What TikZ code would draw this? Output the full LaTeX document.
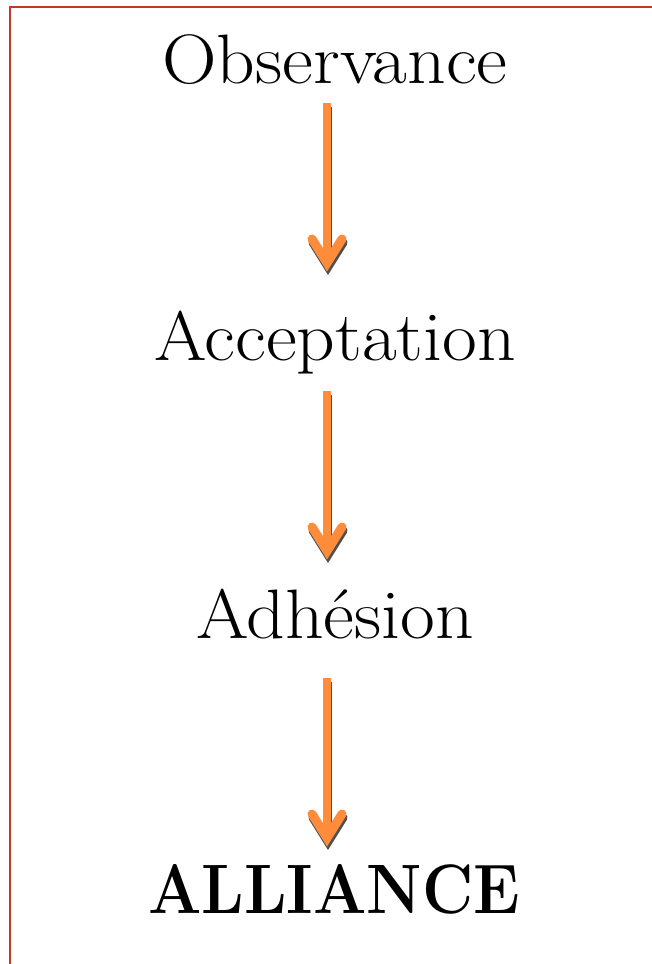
\documentclass[tikz,border=0pt]{standalone}
\usetikzlibrary{calc}
\definecolor{frame}{RGB}{192,57,43}
\definecolor{arrorange}{RGB}{255,140,58}
\definecolor{arrshadow}{RGB}{80,80,80}
\tikzset{
  lbl/.style={inner sep=0pt, anchor=base, font=\fontsize{70}{74}\selectfont},
  shaftline/.style={line width=8pt, line cap=butt},
  headline/.style={line width=9pt, line cap=round, line join=miter},
}
\newcommand{\myarrow}[2]{%
  \draw[shaftline, arrshadow] ($(#1)+(1,3.5)$) -- ($(#2)+(1,-6)$);
  \draw[headline, arrshadow] ($(#2)+(-15+1,-24+3.5)$) -- ($(#2)+(1,3.5)$) -- ($(#2)+(15+1,-24+3.5)$);
  \draw[shaftline, arrorange] (#1) -- ($(#2)+(0,-6)$);
  \draw[headline, arrorange] ($(#2)+(-15,-24)$) -- (#2) -- ($(#2)+(15,-24)$);
}
\begin{document}
\begin{tikzpicture}[x=1pt,y=-1pt]
\useasboundingbox (0,0) rectangle (652,964);
\draw[frame, line width=2.2pt] (10,975) -- (10,7) -- (665,7);
\node[lbl, xscale=1.08] (obs) at (335,83) {Observance};
\node[lbl, xscale=1.08] (acc) at (335,360) {Acceptation};
\node[lbl, xscale=1.08] (adh) at (335,638) {Adhésion};
\node[lbl, xscale=0.9, font=\fontsize{70}{74}\selectfont\bfseries] (all) at (334,913) {ALLIANCE};
\coordinate (s1) at (327,103);
\coordinate (t1) at (327,263);
\coordinate (s2) at (327,391);
\coordinate (t2) at (327,551);
\coordinate (s3) at (327,678);
\coordinate (t3) at (327,838);
\myarrow{s1}{t1}
\myarrow{s2}{t2}
\myarrow{s3}{t3}
\end{tikzpicture}
\end{document}
